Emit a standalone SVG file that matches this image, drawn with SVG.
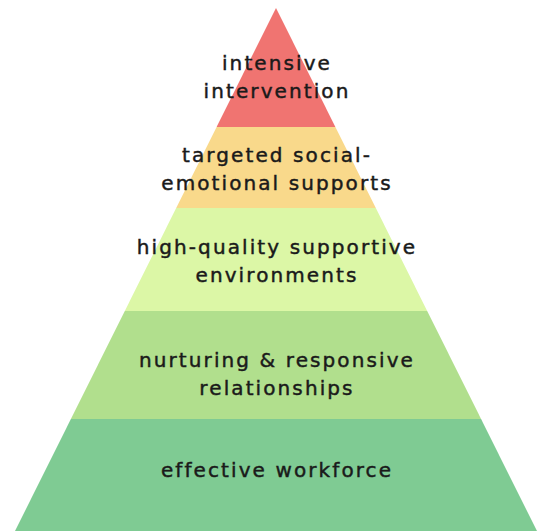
<svg xmlns="http://www.w3.org/2000/svg" width="545" height="531" viewBox="0 0 545 531">
  <style>
    .label { font-family: "DejaVu Sans", "Noto Sans", sans-serif; font-size: 20px; letter-spacing: 2.1px; fill: #1a1a1a; stroke: #1a1a1a; stroke-width: 0.45px; text-anchor: middle; }
  </style>
  <rect width="545" height="531" fill="#ffffff"/>
  <!-- pyramid: apex (276,8), base 15..537 at y=531; half-width grows 0.499 px per px -->
  <g id="tier-intensive">
    <polygon points="276,8 335.4,127 216.6,127" fill="#f07471"/>
    <text class="label" x="277" y="70">intensive</text>
    <text class="label" x="277" y="98">intervention</text>
  </g>
  <g id="tier-targeted">
    <polygon points="216.6,127 335.4,127 375.8,208 176.2,208" fill="#f9d98b"/>
    <text class="label" x="277" y="162">targeted social-</text>
    <text class="label" x="277" y="190">emotional supports</text>
  </g>
  <g id="tier-environments">
    <polygon points="176.2,208 375.8,208 427.2,311 124.8,311" fill="#dcf7a6"/>
    <text class="label" x="277" y="254">high-quality supportive</text>
    <text class="label" x="277" y="282">environments</text>
  </g>
  <g id="tier-relationships">
    <polygon points="124.8,311 427.2,311 481.1,419 70.9,419" fill="#b1df8d"/>
    <text class="label" x="277" y="367">nurturing &amp; responsive</text>
    <text class="label" x="277" y="395">relationships</text>
  </g>
  <g id="tier-workforce">
    <polygon points="70.9,419 481.1,419 537,531 15,531" fill="#7fcb93"/>
    <text class="label" x="277" y="477">effective workforce</text>
  </g>
  <g id="connectors"/>
</svg>
